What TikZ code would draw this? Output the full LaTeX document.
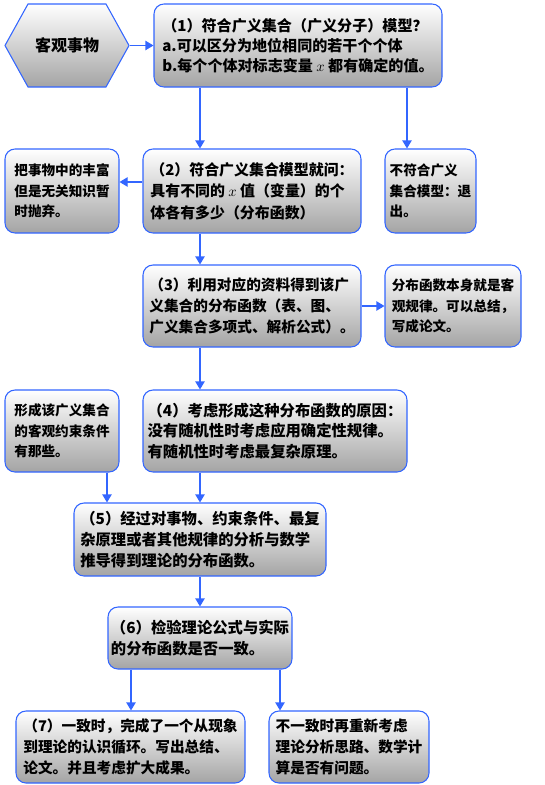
\documentclass[tikz,border=0pt]{standalone}
\usepackage{fontspec}
\setmainfont{Noto Sans CJK SC}
\usetikzlibrary{arrows.meta, positioning, shapes.symbols}
\definecolor{Edge}{HTML}{3366FF}
\definecolor{Shade}{HTML}{A4A4A4}

\tikzset{
  stepbox/.style={draw=Edge, line width=0.8pt, rounded corners=7.5pt,
    top color=white, bottom color=Shade, align=left, inner sep=0pt,
    font=\fontsize{11.5}{15.5}\selectfont\bfseries},
  sidebox/.style={stepbox, font=\fontsize{10.2}{15.5}\selectfont\bfseries},
  flow/.style={draw=Edge, line width=0.8pt, -{Triangle[length=6pt,width=7pt]}}
}

\begin{document}
\begin{tikzpicture}[x=0.75pt, y=-0.75pt]
  \useasboundingbox (0,0) rectangle (545,785);

  % start
  \node[signal, signal to=west and east, signal pointer angle=122,
        draw=Edge, line width=0.8pt, top color=white, bottom color=Shade,
        minimum width=93pt, minimum height=62.25pt, inner sep=0pt,
        font=\fontsize{12}{14}\selectfont\bfseries] (thing) at (67,45.5) {客观事物};

  % main column
  \node[stepbox, minimum width=216pt, minimum height=62.25pt,
        font=\fontsize{11.3}{15}\selectfont\bfseries] (ask) at (298,45.5)
    {（1）符合广义集合（广义分子）模型？\\
     a.可以区分为地位相同的若干个个体\\
     b.每个个体对标志变量 $x$ 都有确定的值。};
  \node[stepbox, minimum width=163.5pt, minimum height=63pt,
        font=\fontsize{11.2}{16}\selectfont\bfseries] (count) at (252,191)
    {（2）符合广义集合模型就问：\\
     具有不同的 $x$ 值（变量）的个\\
     体各有多少（分布函数）};
  \node[stepbox, minimum width=163.5pt, minimum height=61.5pt,
        font=\fontsize{11}{15.5}\selectfont\bfseries] (fitdata) at (252,306)
    {（3）利用对应的资料得到该广\\
     义集合的分布函数（表、图、\\
     广义集合多项式、解析公式）。};
  \node[stepbox, minimum width=198pt, minimum height=61.5pt] (cause) at (275,431)
    {（4）考虑形成这种分布函数的原因：\\
     没有随机性时考虑应用确定性规律。\\
     有随机性时考虑最复杂原理。};
  \node[stepbox, minimum width=189pt, minimum height=54.75pt] (derive) at (200,539.5)
    {（5）经过对事物、约束条件、最复\\
     杂原理或者其他规律的分析与数学\\
     推导得到理论的分布函数。};
  \node[stepbox, minimum width=138pt, minimum height=46.5pt] (check) at (200,638)
    {（6）检验理论公式与实际\\
     的分布函数是否一致。};
  \node[stepbox, minimum width=171.75pt, minimum height=54pt,
        font=\fontsize{11}{15.5}\selectfont\bfseries] (done) at (130.5,747)
    {（7）一致时，完成了一个从现象\\
     到理论的认识循环。写出总结、\\
     论文。并且考虑扩大成果。};
  \node[stepbox, minimum width=120pt, minimum height=54pt,
        font=\fontsize{11}{15.5}\selectfont\bfseries] (redo) at (349,747)
    {不一致时再重新考虑\\
     理论分析思路、数学计\\
     算是否有问题。};

  % side notes
  \node[sidebox, minimum width=85.5pt, minimum height=63pt] (drop) at (62,191)
    {把事物中的丰富\\ 但是无关知识暂\\ 时抛弃。};
  \node[sidebox, minimum width=68.25pt, minimum height=63pt] (quit) at (430.5,191)
    {不符合广义\\ 集合模型：退\\ 出。};
  \node[sidebox, minimum width=102pt, minimum height=61.5pt] (law) at (453,306)
    {分布函数本身就是客\\ 观规律。可以总结，\\ 写成论文。};
  \node[sidebox, minimum width=85.5pt, minimum height=61.5pt] (limit) at (62,431)
    {形成该广义集合\\ 的客观约束条件\\ 有那些。};

  % columns of the connectors
  \coordinate (c1) at (200,0);
  \coordinate (c2) at (407,0);
  \coordinate (c3) at (107,0);
  \coordinate (c4) at (131,0);
  \coordinate (c5) at (280,0);

  \draw[flow] (thing.east) -- (ask.west);
  \draw[flow] (ask.south -| c1) -- (count.north -| c1);
  \draw[flow] (ask.south -| c2) -- (quit.north -| c2);
  \draw[flow] ([yshift=6.75pt]count.west) -- ([yshift=6.75pt]drop.east);
  \draw[flow] (count.south -| c1) -- (fitdata.north -| c1);
  \draw[flow] (fitdata.east) -- (law.west);
  \draw[flow] (fitdata.south -| c1) -- (cause.north -| c1);
  \draw[flow] (limit.south -| c3) -- (derive.north -| c3);
  \draw[flow] (cause.south -| c1) -- (derive.north -| c1);
  \draw[flow] (derive.south) -- (check.north);
  \draw[flow] (check.south -| c4) -- (done.north -| c4);
  \draw[flow] (check.south -| c5) -- (redo.north -| c5);
\end{tikzpicture}
\end{document}
